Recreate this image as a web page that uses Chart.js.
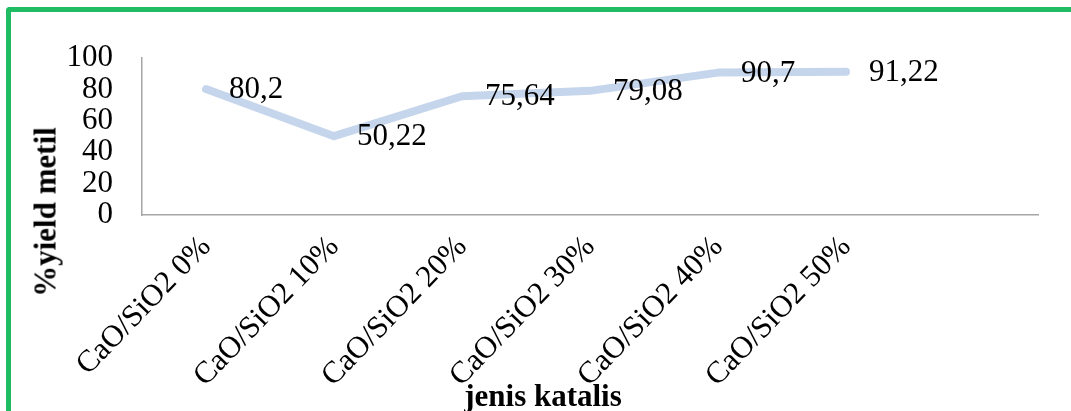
<!DOCTYPE html>
<html>
<head>
<meta charset="utf-8">
<script src="https://cdn.jsdelivr.net/npm/chart.js@4/dist/chart.umd.min.js"></script>
<style>
  html, body { margin: 0; padding: 0; background: #ffffff; }
  #wrap { position: relative; width: 1071px; height: 411px; overflow: hidden; background: #ffffff; }
  #frame {
    position: absolute; left: 6px; top: 7px; width: 1200px; height: 500px;
    border-left: 5px solid #1fbc63; border-top: 5px solid #1fbc63;
    border-top-left-radius: 4px; box-sizing: border-box; pointer-events: none;
  }
  .axis-title {
    position: absolute; font-family: "Liberation Serif", "Times New Roman", serif;
    font-weight: bold; font-size: 31px; line-height: 1; color: #000; white-space: nowrap;
  }
  #ytitle { left: 45px; top: 212px; transform: translate(-50%, -50%) rotate(-90deg); }
  #xtitle { left: 543px; top: 380px; transform: translateX(-50%); }
  canvas { position: absolute; left: 0; top: 0; }
</style>
</head>
<body>
<div id="wrap">
  <canvas id="chart" width="1071" height="411"></canvas>
  <div id="ytitle" class="axis-title">%yield metil</div>
  <div id="xtitle" class="axis-title">jenis katalis</div>
  <div id="frame"></div>
</div>
<script>
// Catalyst variants (the trailing empty slot keeps the axis extending past the last point)
const categories = ["CaO/SiO2 0%", "CaO/SiO2 10%", "CaO/SiO2 20%", "CaO/SiO2 30%", "CaO/SiO2 40%", "CaO/SiO2 50%", ""];
// Methyl ester yield (%)
const yieldValues = [80.2, 50.22, 75.64, 79.08, 90.7, 91.22, null];
// Y axis range
const yMin = 0;
const yMax = 100;
const yStep = 20;

const serif = "'Liberation Serif', 'Times New Roman', serif";

// Writes each value (decimal comma) to the right of its point
const valueLabels = {
  id: 'valueLabels',
  afterDatasetsDraw(chart) {
    const ctx = chart.ctx;
    const meta = chart.getDatasetMeta(0);
    ctx.save();
    ctx.font = "31px " + serif;
    ctx.fillStyle = "#000000";
    ctx.textAlign = "left";
    ctx.textBaseline = "middle";
    meta.data.forEach((pt, i) => {
      const v = yieldValues[i];
      if (v === null || v === undefined) return;
      ctx.fillText(String(v).replace('.', ','), pt.x + 23, pt.y + 1);
    });
    ctx.restore();
  }
};

new Chart(document.getElementById('chart'), {
  type: 'line',
  data: {
    labels: categories,
    datasets: [{
      data: yieldValues,
      borderColor: '#c5d5eb',
      borderWidth: 8,
      borderCapStyle: 'round',
      borderJoinStyle: 'round',
      pointRadius: 0,
      pointHoverRadius: 0,
      tension: 0,
      fill: false
    }]
  },
  options: {
    responsive: false,
    animation: false,
    events: [],
    layout: { padding: { top: 58, right: 33, left: 0, bottom: 0 } },
    plugins: {
      legend: { display: false },
      tooltip: { enabled: false },
      title: { display: false }
    },
    scales: {
      x: {
        offset: true,
        grid: { display: false, drawTicks: false },
        border: { display: true, color: '#a6a6a6', width: 1.5 },
        ticks: {
          autoSkip: false,
          minRotation: 46,
          maxRotation: 46,
          padding: 14,
          color: '#000000',
          font: { family: serif, size: 31 }
        },
        afterFit(scale) { scale.height = 196; }
      },
      y: {
        min: yMin,
        max: yMax,
        grid: { display: false, drawTicks: false },
        border: { display: true, color: '#a6a6a6', width: 1.5 },
        ticks: {
          autoSkip: false,
          stepSize: yStep,
          padding: 29,
          color: '#000000',
          font: { family: serif, size: 31 }
        },
        afterFit(scale) { scale.width = 142; }
      }
    }
  },
  plugins: [valueLabels]
});
</script>
</body>
</html>
